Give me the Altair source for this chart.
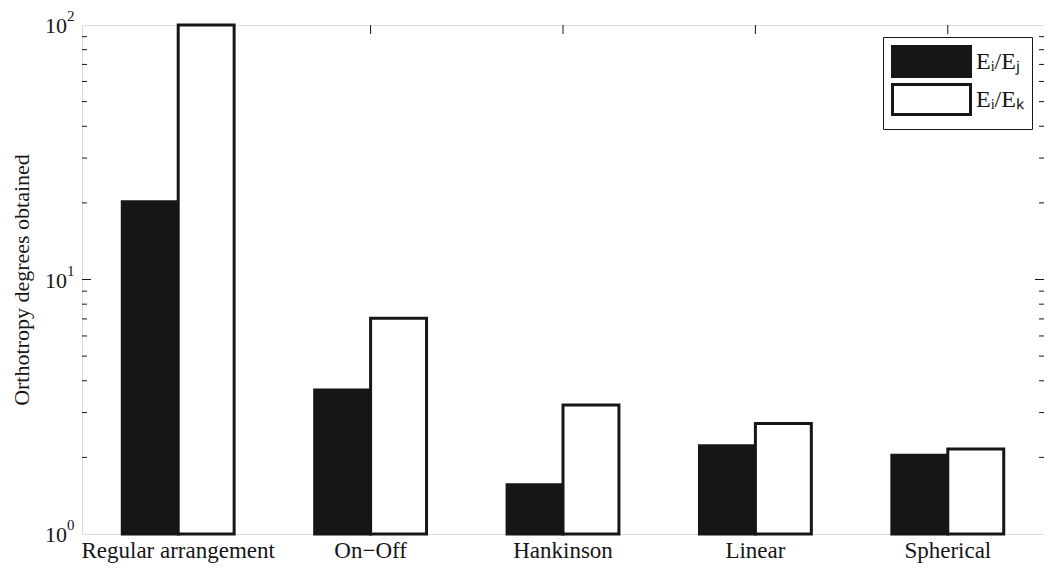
import altair as alt
import pandas as pd

categories = ["Regular arrangement", "On\u2212Off", "Hankinson", "Linear", "Spherical"]
series_names = ["E\u1d62/E\u2c7c", "E\u1d62/E\u2096"]
values_ij = [20.2, 3.68, 1.56, 2.22, 2.04]
values_ik = [100.0, 7.05, 3.21, 2.72, 2.16]

y_label_values = [1, 10, 100]
y_label_base = ["10", "10", "10"]
y_label_exp = ["0", "1", "2"]
minor_ticks = [2, 3, 4, 5, 6, 7, 8, 9, 20, 30, 40, 50, 60, 70, 80, 90]
major_ticks = [10]

rows = []
for c, a, b in zip(categories, values_ij, values_ik):
    rows.append({"category": c, "series": series_names[0], "value": a})
    rows.append({"category": c, "series": series_names[1], "value": b})
bars_df = pd.DataFrame(rows)
cat_df = pd.DataFrame({"category": categories})
minor_df = pd.DataFrame({"value": minor_ticks})
major_df = pd.DataFrame({"value": major_ticks})
ylab_df = pd.DataFrame({"value": y_label_values, "base": y_label_base, "exp": y_label_exp})

W, H = 962, 509
FONT = "Liberation Serif"
INK = "#161616"
YTITLE = "Orthotropy degrees obtained"

xs = alt.Scale(domain=categories, paddingInner=0, paddingOuter=0)
ys = alt.Scale(type="log", domain=[1, 100], nice=False)

X = alt.X("category:N", scale=xs, sort=categories, title=None,
          axis=alt.Axis(labelAngle=0, labelFont=FONT, labelFontSize=23, labelLimit=400,
                        labelColor=INK, labelPadding=5, ticks=False, domain=False, grid=False))


def Y(field="value"):
    return alt.Y(f"{field}:Q", scale=ys, title=YTITLE,
                 axis=alt.Axis(labels=False, ticks=False, domain=False, grid=False,
                               titleFont=FONT, titleFontSize=22, titleFontWeight="normal",
                               titleColor=INK, titleX=-61, titleY=H / 2,
                               titleAngle=-90, titleBaseline="middle", titleAlign="center"))


bars = alt.Chart(bars_df).mark_bar(stroke=INK, strokeWidth=3, strokeJoin="miter").encode(
    x=X,
    xOffset=alt.XOffset("series:N", sort=series_names,
                        scale=alt.Scale(domain=series_names, paddingInner=0, paddingOuter=0.72)),
    y=Y(),
    y2=alt.datum(1),
    fill=alt.Fill("series:N", sort=series_names,
                  scale=alt.Scale(domain=series_names, range=[INK, "white"]),
                  legend=alt.Legend(title=None, orient="top-right", offset=12,
                                    symbolType="M-1,-1H4.2V1H-1Z", symbolSize=900,
                                    symbolStrokeColor=INK, symbolStrokeWidth=3,
                                    labelFont=FONT, labelFontSize=24, labelColor=INK,
                                    labelOffset=52, rowPadding=-6, padding=8,
                                    strokeColor=INK, fillColor="white", cornerRadius=0)),
)

left_minor = alt.Chart(minor_df).mark_rule(color=INK, strokeWidth=1).encode(
    y=Y(), x=alt.value(0), x2=alt.value(5))
right_minor = alt.Chart(minor_df).mark_rule(color=INK, strokeWidth=1).encode(
    y=Y(), x=alt.value(W), x2=alt.value(W - 5))
left_major = alt.Chart(major_df).mark_rule(color=INK, strokeWidth=1).encode(
    y=Y(), x=alt.value(0), x2=alt.value(9))
right_major = alt.Chart(major_df).mark_rule(color=INK, strokeWidth=1).encode(
    y=Y(), x=alt.value(W), x2=alt.value(W - 9))
top_ticks = alt.Chart(cat_df).mark_rule(color=INK, strokeWidth=1).encode(
    x=X, y=alt.value(0), y2=alt.value(9))
bottom_ticks = alt.Chart(cat_df).mark_rule(color=INK, strokeWidth=1).encode(
    x=X, y=alt.value(H), y2=alt.value(H - 9))

ylab_base = alt.Chart(ylab_df).mark_text(font=FONT, fontSize=22, color=INK, align="right",
                                         baseline="middle", dy=1).encode(
    y=Y(), x=alt.value(-15), text="base:N")
ylab_exp = alt.Chart(ylab_df).mark_text(font=FONT, fontSize=15, color=INK, align="left",
                                        baseline="middle", dy=-9).encode(
    y=Y(), x=alt.value(-15), text="exp:N")

chart = alt.layer(bars, left_minor, right_minor, left_major, right_major,
                  top_ticks, bottom_ticks, ylab_base, ylab_exp).properties(
    width=W, height=H,
    autosize=alt.AutoSizeParams(type="none"),
    padding={"left": 74, "top": 17, "right": 0, "bottom": 30},
).configure_view(stroke="#222", strokeWidth=1.2).configure(background="white")

chart.save("out.html", embed_options={"renderer": "svg", "actions": False})
